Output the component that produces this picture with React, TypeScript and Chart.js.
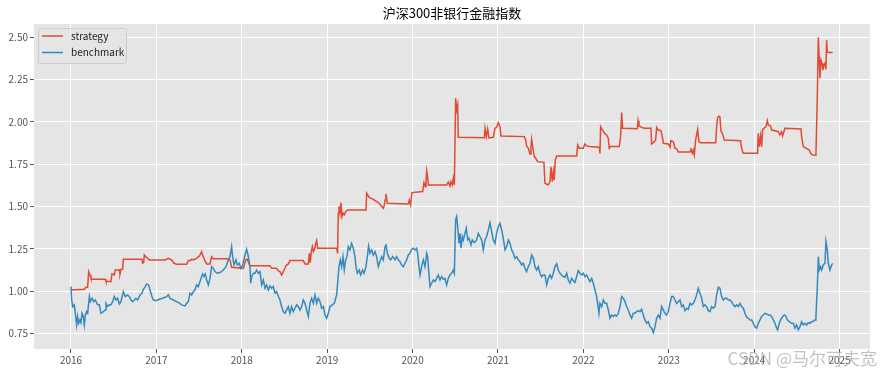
import React, { useEffect, useRef } from "react";
import { Chart, registerables } from "chart.js";

Chart.register(...registerables);

const TITLE = "沪深300非银行金融指数";
const SERIES_NAMES = ["strategy", "benchmark"];
const X_TICK_YEARS = [2016, 2017, 2018, 2019, 2020, 2021, 2022, 2023, 2024, 2025];
const Y_TICK_VALUES = [0.75, 1.0, 1.25, 1.5, 1.75, 2.0, 2.25, 2.5];
const WATERMARK = "CSDN @马尔可夫宽";

// [decimal year, value]
const strategyPoints: [number, number][] = [
  [2016.000, 1.006], [2016.156, 1.010], [2016.176, 1.022], [2016.195, 1.022], [2016.207, 1.115],
  [2016.223, 1.095], [2016.234, 1.075], [2016.254, 1.069], [2016.402, 1.069], [2016.410, 1.056],
  [2016.468, 1.056], [2016.480, 1.101], [2016.507, 1.095], [2016.519, 1.124], [2016.566, 1.124],
  [2016.574, 1.101], [2016.585, 1.128], [2016.605, 1.128], [2016.613, 1.188], [2016.831, 1.188],
  [2016.839, 1.164], [2016.851, 1.168], [2016.859, 1.213], [2016.878, 1.203], [2016.898, 1.193],
  [2016.917, 1.184], [2017.100, 1.184], [2017.120, 1.188], [2017.140, 1.193], [2017.159, 1.188],
  [2017.179, 1.184], [2017.206, 1.164], [2017.237, 1.158], [2017.354, 1.158], [2017.374, 1.180],
  [2017.401, 1.180], [2017.413, 1.188], [2017.432, 1.184], [2017.471, 1.193], [2017.503, 1.207],
  [2017.518, 1.219], [2017.530, 1.233], [2017.542, 1.213], [2017.557, 1.193], [2017.569, 1.180],
  [2017.589, 1.160], [2017.628, 1.160], [2017.647, 1.203], [2017.667, 1.190], [2017.842, 1.190],
  [2017.862, 1.184], [2017.881, 1.140], [2018.018, 1.134], [2018.030, 1.154], [2018.046, 1.184],
  [2018.065, 1.188], [2018.081, 1.164], [2018.096, 1.150], [2018.330, 1.150], [2018.350, 1.134],
  [2018.408, 1.134], [2018.428, 1.119], [2018.447, 1.115], [2018.467, 1.095], [2018.486, 1.115],
  [2018.506, 1.134], [2018.514, 1.148], [2018.545, 1.160], [2018.564, 1.180], [2018.720, 1.180],
  [2018.740, 1.160], [2018.779, 1.160], [2018.791, 1.223], [2018.802, 1.168], [2018.814, 1.233],
  [2018.826, 1.262], [2018.838, 1.233], [2018.849, 1.243], [2018.865, 1.278], [2018.877, 1.298],
  [2018.888, 1.253], [2019.111, 1.253], [2019.122, 1.223], [2019.130, 1.460], [2019.138, 1.499],
  [2019.150, 1.460], [2019.161, 1.523], [2019.173, 1.440], [2019.185, 1.460], [2019.200, 1.450],
  [2019.216, 1.469], [2019.239, 1.479], [2019.454, 1.479], [2019.462, 1.578], [2019.482, 1.562],
  [2019.493, 1.554], [2019.540, 1.542], [2019.579, 1.529], [2019.610, 1.519], [2019.638, 1.499],
  [2019.657, 1.489], [2019.669, 1.509], [2019.677, 1.538], [2019.688, 1.574], [2019.696, 1.548],
  [2019.704, 1.519], [2019.950, 1.515], [2019.962, 1.538], [2019.977, 1.509], [2019.993, 1.582],
  [2020.118, 1.588], [2020.133, 1.641], [2020.149, 1.617], [2020.157, 1.647], [2020.165, 1.710],
  [2020.176, 1.676], [2020.184, 1.627], [2020.399, 1.627], [2020.418, 1.645], [2020.438, 1.621],
  [2020.449, 1.647], [2020.465, 1.627], [2020.477, 1.667], [2020.489, 1.627], [2020.504, 2.140],
  [2020.516, 2.071], [2020.528, 2.100], [2020.535, 1.909], [2020.840, 1.907], [2020.848, 1.962],
  [2020.863, 1.913], [2020.879, 1.958], [2020.894, 1.905], [2020.945, 1.909], [2020.965, 1.962],
  [2020.984, 1.968], [2021.004, 1.996], [2021.023, 1.972], [2021.035, 1.917], [2021.308, 1.913],
  [2021.324, 1.893], [2021.335, 1.858], [2021.355, 1.844], [2021.375, 1.810], [2021.386, 1.854],
  [2021.394, 1.897], [2021.406, 1.854], [2021.425, 1.795], [2021.441, 1.785], [2021.464, 1.765],
  [2021.538, 1.761], [2021.550, 1.637], [2021.589, 1.627], [2021.609, 1.647], [2021.620, 1.735],
  [2021.636, 1.647], [2021.648, 1.706], [2021.659, 1.657], [2021.671, 1.775], [2021.687, 1.799],
  [2021.921, 1.799], [2021.933, 1.864], [2021.952, 1.844], [2021.999, 1.844], [2022.018, 1.870],
  [2022.038, 1.858], [2022.069, 1.854], [2022.186, 1.850], [2022.194, 1.814], [2022.202, 1.972],
  [2022.225, 1.952], [2022.253, 1.929], [2022.272, 1.923], [2022.292, 1.903], [2022.303, 1.844],
  [2022.319, 1.854], [2022.420, 1.854], [2022.436, 1.913], [2022.448, 2.055], [2022.459, 1.962],
  [2022.631, 1.960], [2022.640, 2.007], [2022.651, 1.976], [2022.682, 1.968], [2022.713, 1.962],
  [2022.791, 1.962], [2022.799, 1.870], [2022.830, 1.883], [2022.846, 1.893], [2022.858, 1.968],
  [2022.877, 1.952], [2022.908, 1.948], [2022.924, 1.913], [2022.936, 1.874], [2022.994, 1.870],
  [2023.014, 1.850], [2023.025, 1.889], [2023.053, 1.883], [2023.072, 1.844], [2023.092, 1.842],
  [2023.111, 1.822], [2023.248, 1.822], [2023.260, 1.838], [2023.275, 1.815], [2023.287, 1.834],
  [2023.299, 1.805], [2023.314, 1.893], [2023.338, 1.956], [2023.353, 1.883], [2023.369, 1.877],
  [2023.549, 1.877], [2023.560, 1.972], [2023.572, 2.026], [2023.588, 2.034], [2023.599, 2.026],
  [2023.611, 1.948], [2023.627, 1.932], [2023.650, 1.893], [2023.841, 1.889], [2023.853, 1.844],
  [2023.865, 1.824], [2023.872, 1.814], [2024.040, 1.814], [2024.048, 1.933], [2024.060, 1.854],
  [2024.075, 1.917], [2024.087, 1.854], [2024.099, 1.956], [2024.114, 1.962], [2024.138, 1.972],
  [2024.154, 2.007], [2024.165, 1.982], [2024.193, 1.976], [2024.204, 1.952], [2024.243, 1.948],
  [2024.282, 1.942], [2024.302, 1.923], [2024.321, 1.942], [2024.333, 1.917], [2024.360, 1.962],
  [2024.548, 1.958], [2024.555, 1.913], [2024.575, 1.854], [2024.645, 1.834], [2024.661, 1.814],
  [2024.684, 1.804], [2024.723, 1.803], [2024.739, 2.149], [2024.751, 2.500], [2024.762, 2.366],
  [2024.770, 2.258], [2024.782, 2.366], [2024.794, 2.347], [2024.805, 2.307], [2024.817, 2.337],
  [2024.829, 2.347], [2024.840, 2.311], [2024.848, 2.484], [2024.856, 2.415], [2024.868, 2.410],
  [2024.919, 2.410],
];

const benchmarkPoints: [number, number][] = [
  [2016.000, 1.026], [2016.008, 0.947], [2016.020, 0.908], [2016.039, 0.918], [2016.051, 0.868],
  [2016.066, 0.799], [2016.078, 0.849], [2016.090, 0.809], [2016.105, 0.829], [2016.117, 0.813],
  [2016.129, 0.868], [2016.144, 0.849], [2016.156, 0.799], [2016.168, 0.858], [2016.183, 0.878],
  [2016.195, 0.868], [2016.215, 0.967], [2016.226, 0.937], [2016.246, 0.957], [2016.265, 0.937],
  [2016.285, 0.947], [2016.312, 0.918], [2016.332, 0.918], [2016.351, 0.868], [2016.379, 0.878],
  [2016.402, 0.888], [2016.410, 0.927], [2016.429, 0.908], [2016.449, 0.918], [2016.468, 0.918],
  [2016.488, 0.937], [2016.507, 0.967], [2016.527, 0.947], [2016.546, 0.957], [2016.566, 0.923],
  [2016.585, 0.937], [2016.613, 0.996], [2016.636, 0.967], [2016.664, 0.977], [2016.683, 0.967],
  [2016.703, 0.947], [2016.722, 0.937], [2016.742, 0.947], [2016.761, 0.957], [2016.781, 0.947],
  [2016.808, 0.977], [2016.831, 0.987], [2016.847, 1.010], [2016.870, 1.026], [2016.886, 1.042],
  [2016.909, 1.036], [2016.925, 1.006], [2016.948, 0.967], [2016.964, 0.947], [2016.995, 0.943],
  [2017.034, 0.951], [2017.073, 0.957], [2017.120, 0.967], [2017.140, 0.977], [2017.159, 0.957],
  [2017.198, 0.947], [2017.237, 0.937], [2017.276, 0.927], [2017.296, 0.918], [2017.335, 0.912],
  [2017.354, 0.927], [2017.374, 0.937], [2017.393, 0.987], [2017.413, 0.977], [2017.432, 0.996],
  [2017.452, 1.006], [2017.471, 1.036], [2017.491, 1.026], [2017.511, 1.056], [2017.530, 1.085],
  [2017.542, 1.101], [2017.557, 1.085], [2017.573, 1.101], [2017.589, 1.065], [2017.608, 1.036],
  [2017.628, 1.075], [2017.647, 1.144], [2017.667, 1.134], [2017.686, 1.115], [2017.713, 1.105],
  [2017.745, 1.109], [2017.784, 1.124], [2017.815, 1.144], [2017.842, 1.184], [2017.862, 1.203],
  [2017.881, 1.262], [2017.893, 1.203], [2017.909, 1.154], [2017.932, 1.184], [2017.948, 1.154],
  [2017.971, 1.164], [2017.987, 1.134], [2018.010, 1.154], [2018.038, 1.213], [2018.057, 1.247],
  [2018.077, 1.203], [2018.096, 1.144], [2018.104, 1.046], [2018.116, 1.085], [2018.135, 1.105],
  [2018.155, 1.105], [2018.174, 1.124], [2018.194, 1.105], [2018.213, 1.115], [2018.233, 1.036],
  [2018.252, 1.065], [2018.272, 1.016], [2018.291, 1.036], [2018.311, 1.006], [2018.330, 1.030],
  [2018.350, 1.016], [2018.369, 1.026], [2018.389, 0.987], [2018.408, 0.996], [2018.428, 0.967],
  [2018.447, 0.947], [2018.467, 0.908], [2018.486, 0.878], [2018.506, 0.868], [2018.525, 0.888],
  [2018.545, 0.908], [2018.564, 0.868], [2018.584, 0.908], [2018.603, 0.878], [2018.623, 0.898],
  [2018.642, 0.918], [2018.662, 0.908], [2018.681, 0.888], [2018.701, 0.908], [2018.720, 0.947],
  [2018.740, 0.927], [2018.759, 0.888], [2018.779, 0.849], [2018.798, 0.927], [2018.818, 0.957],
  [2018.838, 0.927], [2018.857, 0.977], [2018.877, 0.927], [2018.896, 0.957], [2018.916, 0.937],
  [2018.935, 0.898], [2018.955, 0.908], [2018.974, 0.858], [2018.994, 0.839], [2019.013, 0.868],
  [2019.033, 0.908], [2019.060, 0.918], [2019.083, 0.927], [2019.099, 0.957], [2019.111, 0.977],
  [2019.122, 1.046], [2019.138, 1.144], [2019.154, 1.184], [2019.169, 1.144], [2019.185, 1.203],
  [2019.200, 1.124], [2019.216, 1.184], [2019.232, 1.203], [2019.247, 1.262], [2019.267, 1.243],
  [2019.286, 1.282], [2019.306, 1.253], [2019.325, 1.203], [2019.337, 1.144], [2019.353, 1.105],
  [2019.376, 1.124], [2019.392, 1.095], [2019.415, 1.124], [2019.431, 1.105], [2019.454, 1.144],
  [2019.470, 1.203], [2019.485, 1.266], [2019.501, 1.223], [2019.521, 1.243], [2019.540, 1.213],
  [2019.560, 1.233], [2019.579, 1.203], [2019.599, 1.144], [2019.618, 1.174], [2019.638, 1.203],
  [2019.657, 1.184], [2019.677, 1.262], [2019.688, 1.278], [2019.704, 1.223], [2019.727, 1.193],
  [2019.743, 1.184], [2019.767, 1.203], [2019.794, 1.184], [2019.813, 1.203], [2019.833, 1.184],
  [2019.852, 1.174], [2019.872, 1.154], [2019.891, 1.144], [2019.911, 1.164], [2019.930, 1.184],
  [2019.950, 1.213], [2019.969, 1.223], [2019.989, 1.247], [2020.008, 1.253], [2020.028, 1.243],
  [2020.047, 1.253], [2020.059, 1.223], [2020.075, 1.144], [2020.087, 1.095], [2020.106, 1.144],
  [2020.126, 1.184], [2020.145, 1.144], [2020.165, 1.223], [2020.176, 1.203], [2020.188, 1.124],
  [2020.204, 1.026], [2020.223, 1.046], [2020.243, 1.065], [2020.262, 1.056], [2020.282, 1.075],
  [2020.301, 1.095], [2020.321, 1.065], [2020.340, 1.085], [2020.360, 1.069], [2020.379, 1.075],
  [2020.399, 1.036], [2020.418, 1.075], [2020.438, 1.095], [2020.457, 1.105], [2020.477, 1.124],
  [2020.489, 1.105], [2020.504, 1.420], [2020.516, 1.440], [2020.528, 1.381], [2020.543, 1.282],
  [2020.555, 1.341], [2020.567, 1.253], [2020.582, 1.322], [2020.594, 1.302], [2020.613, 1.341],
  [2020.629, 1.371], [2020.645, 1.302], [2020.660, 1.312], [2020.684, 1.272], [2020.699, 1.302],
  [2020.723, 1.286], [2020.750, 1.302], [2020.769, 1.341], [2020.789, 1.322], [2020.809, 1.302],
  [2020.828, 1.243], [2020.848, 1.302], [2020.867, 1.322], [2020.887, 1.361], [2020.906, 1.404],
  [2020.926, 1.351], [2020.945, 1.302], [2020.965, 1.282], [2020.984, 1.341], [2021.004, 1.381],
  [2021.023, 1.400], [2021.043, 1.361], [2021.062, 1.312], [2021.082, 1.243], [2021.101, 1.262],
  [2021.121, 1.302], [2021.140, 1.282], [2021.160, 1.243], [2021.179, 1.223], [2021.199, 1.193],
  [2021.218, 1.203], [2021.238, 1.184], [2021.257, 1.174], [2021.277, 1.154], [2021.296, 1.164],
  [2021.316, 1.134], [2021.335, 1.115], [2021.355, 1.144], [2021.375, 1.164], [2021.394, 1.213],
  [2021.414, 1.193], [2021.433, 1.144], [2021.453, 1.124], [2021.472, 1.144], [2021.492, 1.105],
  [2021.511, 1.085], [2021.531, 1.095], [2021.550, 1.095], [2021.570, 1.036], [2021.589, 1.075],
  [2021.609, 1.095], [2021.628, 1.075], [2021.648, 1.105], [2021.667, 1.144], [2021.687, 1.160],
  [2021.706, 1.124], [2021.726, 1.105], [2021.745, 1.095], [2021.765, 1.085], [2021.784, 1.081],
  [2021.804, 1.105], [2021.823, 1.065], [2021.843, 1.046], [2021.862, 1.075], [2021.882, 1.061],
  [2021.901, 1.050], [2021.921, 1.085], [2021.940, 1.121], [2021.960, 1.105], [2021.979, 1.095],
  [2021.999, 1.105], [2022.018, 1.085], [2022.038, 1.095], [2022.057, 1.075], [2022.077, 1.056],
  [2022.097, 1.075], [2022.116, 1.046], [2022.136, 1.006], [2022.155, 0.967], [2022.167, 0.927],
  [2022.182, 0.868], [2022.194, 0.927], [2022.214, 0.908], [2022.233, 0.947], [2022.253, 0.927],
  [2022.272, 0.927], [2022.292, 0.888], [2022.311, 0.839], [2022.331, 0.858], [2022.350, 0.849],
  [2022.370, 0.858], [2022.389, 0.852], [2022.409, 0.868], [2022.428, 0.908], [2022.448, 0.967],
  [2022.467, 0.957], [2022.487, 0.937], [2022.506, 0.908], [2022.526, 0.888], [2022.545, 0.858],
  [2022.565, 0.839], [2022.584, 0.868], [2022.604, 0.868], [2022.623, 0.878], [2022.643, 0.884],
  [2022.662, 0.878], [2022.682, 0.892], [2022.701, 0.858], [2022.721, 0.829], [2022.741, 0.809],
  [2022.760, 0.819], [2022.780, 0.789], [2022.799, 0.780], [2022.819, 0.754], [2022.838, 0.789],
  [2022.858, 0.839], [2022.877, 0.858], [2022.897, 0.839], [2022.916, 0.908], [2022.936, 0.888],
  [2022.955, 0.868], [2022.975, 0.858], [2022.994, 0.878], [2023.014, 0.927], [2023.033, 0.967],
  [2023.053, 0.967], [2023.072, 0.947], [2023.092, 0.927], [2023.111, 0.937], [2023.131, 0.947],
  [2023.150, 0.908], [2023.170, 0.918], [2023.189, 0.884], [2023.209, 0.898], [2023.228, 0.892],
  [2023.248, 0.927], [2023.267, 0.918], [2023.287, 0.927], [2023.306, 0.947], [2023.326, 0.977],
  [2023.345, 1.016], [2023.365, 0.987], [2023.385, 0.957], [2023.404, 0.908], [2023.424, 0.918],
  [2023.443, 0.908], [2023.463, 0.884], [2023.482, 0.878], [2023.502, 0.908], [2023.521, 0.898],
  [2023.541, 0.908], [2023.560, 0.977], [2023.580, 1.022], [2023.599, 1.016], [2023.619, 0.967],
  [2023.638, 0.947], [2023.658, 0.957], [2023.677, 0.957], [2023.697, 0.947], [2023.716, 0.947],
  [2023.736, 0.937], [2023.755, 0.918], [2023.775, 0.908], [2023.794, 0.918], [2023.814, 0.908],
  [2023.833, 0.927], [2023.853, 0.908], [2023.872, 0.898], [2023.892, 0.868], [2023.911, 0.845],
  [2023.931, 0.839], [2023.950, 0.829], [2023.970, 0.829], [2023.989, 0.809], [2024.009, 0.789],
  [2024.029, 0.780], [2024.048, 0.809], [2024.068, 0.829], [2024.087, 0.849], [2024.107, 0.858],
  [2024.126, 0.868], [2024.146, 0.864], [2024.165, 0.858], [2024.185, 0.858], [2024.204, 0.849],
  [2024.224, 0.829], [2024.243, 0.809], [2024.263, 0.780], [2024.274, 0.770], [2024.294, 0.809],
  [2024.310, 0.829], [2024.333, 0.849], [2024.353, 0.858], [2024.372, 0.849], [2024.388, 0.829],
  [2024.411, 0.819], [2024.438, 0.809], [2024.458, 0.809], [2024.477, 0.780], [2024.497, 0.799],
  [2024.516, 0.770], [2024.536, 0.789], [2024.555, 0.819], [2024.575, 0.799], [2024.594, 0.809],
  [2024.614, 0.799], [2024.634, 0.813], [2024.653, 0.809], [2024.673, 0.819], [2024.692, 0.819],
  [2024.712, 0.829], [2024.723, 0.849], [2024.739, 1.026], [2024.751, 1.203], [2024.762, 1.124],
  [2024.778, 1.144], [2024.790, 1.124], [2024.809, 1.154], [2024.829, 1.164], [2024.840, 1.292],
  [2024.856, 1.243], [2024.868, 1.164], [2024.887, 1.124], [2024.907, 1.154], [2024.919, 1.164],
];

const COLORS = ["#E24A33", "#348ABD"];
const FONT = '"Noto Sans CJK SC", "Noto Sans", sans-serif';

const decorPlugin = {
  id: "decor",
  beforeDraw(chart: any) {
    const { ctx, chartArea: a } = chart;
    ctx.save();
    ctx.fillStyle = "#E5E5E5";
    ctx.fillRect(a.left, a.top, a.right - a.left, a.bottom - a.top);
    ctx.restore();
  },
  afterDraw(chart: any) {
    const { ctx, chartArea: a } = chart;
    ctx.save();
    // title
    ctx.fillStyle = "#000";
    ctx.font = `13px ${FONT}`;
    ctx.textAlign = "center";
    ctx.textBaseline = "middle";
    ctx.fillText(TITLE, (a.left + a.right) / 2, 13);

    // legend
    const lx = a.left + 4.5;
    const ly = a.top + 4.5;
    const lw = 88;
    const lh = 35;
    ctx.beginPath();
    if ((ctx as any).roundRect) (ctx as any).roundRect(lx, ly, lw, lh, 3);
    else ctx.rect(lx, ly, lw, lh);
    ctx.fillStyle = "rgba(229,229,229,0.8)";
    ctx.fill();
    ctx.strokeStyle = "#CCCCCC";
    ctx.lineWidth = 1;
    ctx.stroke();
    ctx.font = `10px ${FONT}`;
    ctx.textAlign = "left";
    SERIES_NAMES.forEach((name, i) => {
      const y = ly + 7.5 + i * 16.5;
      ctx.strokeStyle = COLORS[i];
      ctx.lineWidth = 1.5;
      ctx.beginPath();
      ctx.moveTo(lx + 3.5, y);
      ctx.lineTo(lx + 24.5, y);
      ctx.stroke();
      ctx.fillStyle = "#222";
      ctx.fillText(name, lx + 32.5, y);
    });

    // watermark
    ctx.font = `17px ${FONT}`;
    ctx.textAlign = "right";
    ctx.textBaseline = "middle";
    ctx.fillStyle = "rgba(175,175,175,0.75)";
    ctx.fillText(WATERMARK, 877, 359);
    ctx.restore();
  },
};

export default function App() {
  const ref = useRef<HTMLCanvasElement | null>(null);
  useEffect(() => {
    if (!ref.current) return;
    const tickFont = { family: FONT, size: 10 };
    const chart = new Chart(ref.current, {
      type: "line",
      data: {
        datasets: [
          {
            label: SERIES_NAMES[0],
            data: strategyPoints.map(([x, y]) => ({ x, y })),
            borderColor: COLORS[0],
            backgroundColor: COLORS[0],
            borderWidth: 1.5,
            pointRadius: 0,
            tension: 0,
            order: 1,
          },
          {
            label: SERIES_NAMES[1],
            data: benchmarkPoints.map(([x, y]) => ({ x, y })),
            borderColor: COLORS[1],
            backgroundColor: COLORS[1],
            borderWidth: 1.5,
            pointRadius: 0,
            tension: 0,
            order: 0,
          },
        ],
      },
      options: {
        animation: false,
        responsive: false,
        devicePixelRatio: 1,
        layout: { padding: { top: 24, right: 11, left: 0, bottom: 0 } },
        plugins: {
          legend: { display: false },
          title: { display: false },
          tooltip: { enabled: false },
        },
        scales: {
          x: {
            type: "linear",
            min: 2015.567,
            max: 2025.356,
            afterBuildTicks: (s: any) => {
              s.ticks = X_TICK_YEARS.map((v) => ({ value: v }));
            },
            afterFit: (s: any) => {
              s.height = 25;
            },
            ticks: {
              callback: (v: any) => String(v),
              color: "#555",
              font: tickFont,
              padding: 1,
              maxRotation: 0,
              autoSkip: false,
            },
            grid: { color: "#FFFFFF", lineWidth: 1, tickColor: "#555", tickLength: 4 },
            border: { display: false },
          },
          y: {
            type: "linear",
            min: 0.657,
            max: 2.579,
            afterBuildTicks: (s: any) => {
              s.ticks = Y_TICK_VALUES.map((v) => ({ value: v }));
            },
            afterFit: (s: any) => {
              s.width = 34;
            },
            ticks: {
              callback: (v: any) => Number(v).toFixed(2),
              color: "#555",
              font: tickFont,
              padding: 2,
              autoSkip: false,
            },
            grid: { color: "#FFFFFF", lineWidth: 1, tickColor: "#555", tickLength: 4 },
            border: { display: false },
          },
        },
      },
      plugins: [decorPlugin],
    } as any);
    return () => chart.destroy();
  }, []);

  return (
    <div style={{ position: "fixed", left: 0, top: 0, width: 881, height: 374, background: "#fff" }}>
      <canvas ref={ref} width={881} height={374} style={{ display: "block" }} />
    </div>
  );
}
